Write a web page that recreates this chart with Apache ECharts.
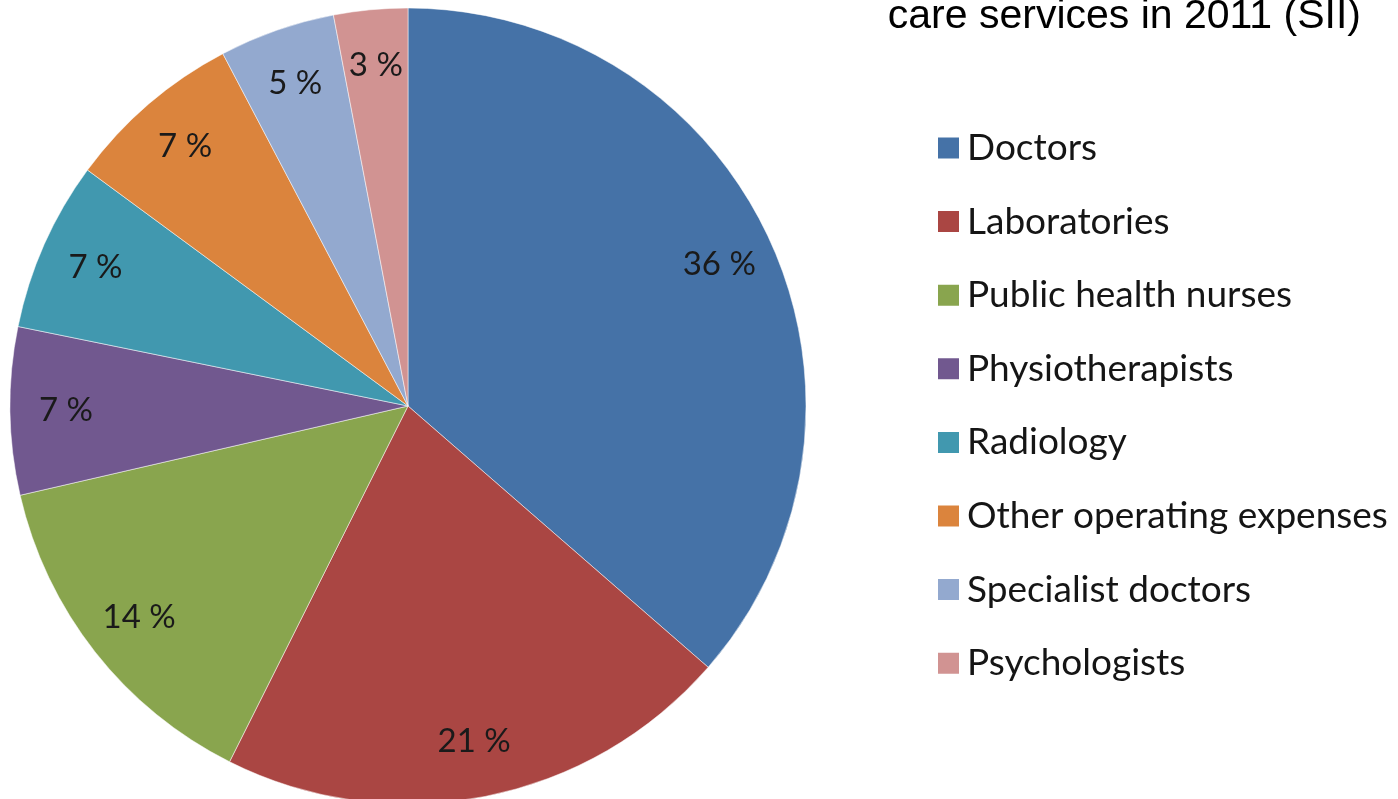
<!DOCTYPE html>
<html>
<head>
<meta charset="utf-8">
<script src="https://cdn.jsdelivr.net/npm/echarts@6/dist/echarts.min.js"></script>
<style>
html,body{margin:0;padding:0;background:#fff;}
#chart{width:1398px;height:799px;}
</style>
</head>
<body>
<div id="chart"></div>
<script>
const titleText = 'care services in 2011 (SII)';
const categories = ['Doctors','Laboratories','Public health nurses','Physiotherapists','Radiology','Other operating expenses','Specialist doctors','Psychologists'];
const values = [36.4, 21.0, 14.0, 6.8, 6.9, 7.2, 4.7, 3.0];
const colors = ['#4572A7','#AA4643','#89A54E','#71588F','#4198AF','#DB843D','#93A9CF','#D19392'];

const data = categories.map((c, i) => ({ name: c, value: values[i], itemStyle: { color: colors[i] } }));
const labelData = categories.map((c, i) => ({ name: c, value: values[i], itemStyle: { color: 'rgba(0,0,0,0)' } }));

const chart = echarts.init(document.getElementById('chart'), null, { renderer: 'canvas' });
chart.setOption({
  animation: false,
  backgroundColor: '#fff',
  title: {
    text: titleText,
    right: 32,
    top: -9,
    textStyle: { fontFamily: 'Liberation Sans', fontSize: 41, fontWeight: 'normal', color: '#000' }
  },
  legend: {
    orient: 'vertical',
    left: 931,
    top: 123,
    itemWidth: 23,
    itemHeight: 23,
    itemGap: 33.6,
    icon: 'rect',
    data: categories,
    textStyle: { fontFamily: 'Lato', fontSize: 37, lineHeight: 40, color: '#151515', padding: [0,0,0,2] }
  },
  series: [
    {
      type: 'pie',
      center: [408, 406],
      radius: [0, 398],
      startAngle: 90,
      clockwise: true,
      silent: true,
      label: { show: false },
      labelLine: { show: false },
      itemStyle: { borderColor: '#fff', borderWidth: 0.5 },
      data: data
    },
    {
      type: 'pie',
      center: [408, 406],
      radius: [280, 398],
      startAngle: 90,
      clockwise: true,
      silent: true,
      label: {
        show: true,
        position: 'inside',
        formatter: p => Math.round(p.value) + ' %',
        fontFamily: 'Lato',
        fontSize: 33,
        color: '#1a1a1a'
      },
      labelLine: { show: false },
      data: labelData
    }
  ]
});
</script>
</body>
</html>
